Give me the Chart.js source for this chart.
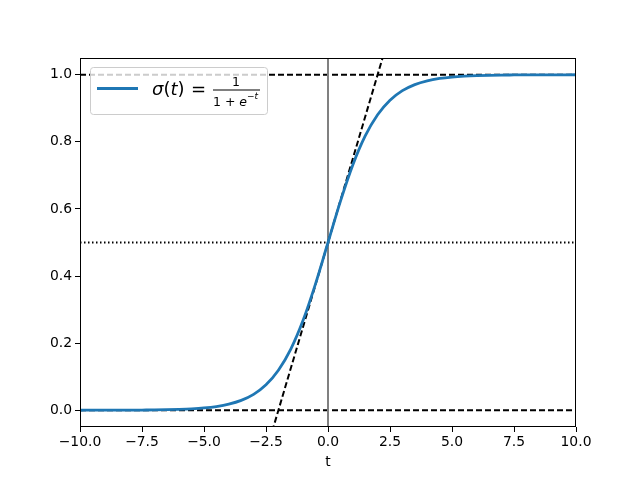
<!DOCTYPE html>
<html>
<head>
<meta charset="utf-8">
<script src="https://cdn.jsdelivr.net/npm/chart.js@4/dist/chart.umd.min.js"></script>
<style>
  html, body { margin: 0; padding: 0; background: #fff; }
  #box { width: 640px; height: 480px; }
</style>
</head>
<body>
<div id="box"><canvas id="sigChart" width="640" height="480"></canvas></div>
<script>
/* ---- data ---- */
const tValues = [-10, -9.5, -9, -8.5, -8, -7.5, -7, -6.5, -6, -5.5, -5, -4.5, -4, -3.5, -3, -2.5, -2, -1.5, -1, -0.5,
  0, 0.5, 1, 1.5, 2, 2.5, 3, 3.5, 4, 4.5, 5, 5.5, 6, 6.5, 7, 7.5, 8, 8.5, 9, 9.5, 10];
const sigValues = [0.0000, 0.0001, 0.0001, 0.0002, 0.0003, 0.0006, 0.0009, 0.0015, 0.0025, 0.0041, 0.0067, 0.0110,
  0.0180, 0.0293, 0.0474, 0.0759, 0.1192, 0.1824, 0.2689, 0.3775, 0.5000, 0.6225, 0.7311, 0.8176, 0.8808,
  0.9241, 0.9526, 0.9707, 0.9820, 0.9890, 0.9933, 0.9959, 0.9975, 0.9985, 0.9991, 0.9994, 0.9997, 0.9998,
  0.9999, 0.9999, 1.0000];
const xTicks = [-10, -7.5, -5, -2.5, 0, 2.5, 5, 7.5, 10];
const yTicks = [0, 0.2, 0.4, 0.6, 0.8, 1.0];
const zeroLine = [[-10, 0], [10, 0]];
const halfLine = [[-10, 0.5], [10, 0.5]];
const oneLine = [[-10, 1], [10, 1]];
const vertLine = [[0, -1.1], [0, 1.1]];
const tangentLine = [[-4, -0.5], [4, 1.5]];

const toPts = (arr) => arr.map(([x, y]) => ({ x, y }));
const fmt = (v) => v.toFixed(1).replace("-", "\u2212");

/* ---- frame around the plot area ---- */
const framePlugin = {
  id: "frame",
  afterDraw(chart) {
    const { ctx, chartArea: a } = chart;
    ctx.save();
    ctx.strokeStyle = "#000";
    ctx.lineWidth = 1;
    ctx.strokeRect(a.left + 0.5, a.top + 0.5, a.right - a.left - 1, a.bottom - a.top - 1);
    ctx.restore();
  },
};

/* ---- legend with the fraction label ---- */
const legendPlugin = {
  id: "mathLegend",
  afterDraw(chart) {
    const ctx = chart.ctx;
    ctx.save();
    // box
    ctx.fillStyle = "rgba(255,255,255,0.8)";
    ctx.strokeStyle = "#cccccc";
    ctx.lineWidth = 1;
    ctx.beginPath();
    ctx.roundRect(90.5, 67.5, 177, 47, 3);
    ctx.fill();
    ctx.stroke();
    // line sample
    ctx.strokeStyle = "#1f77b4";
    ctx.lineWidth = 2.8;
    ctx.beginPath();
    ctx.moveTo(97, 88.5);
    ctx.lineTo(138, 88.5);
    ctx.stroke();
    // sigma(t) =
    ctx.fillStyle = "#000";
    ctx.textBaseline = "alphabetic";
    let x = 152;
    const pieces = [["σ", true], ["(", false], ["t", true], [")", false]];
    pieces.forEach(([s, it]) => {
      ctx.font = (it ? "italic " : "") + '18px "DejaVu Sans"';
      ctx.fillText(s, x, 95);
      x += ctx.measureText(s).width;
    });
    ctx.font = '18px "DejaVu Sans"';
    ctx.fillText("=", 191, 95);
    // fraction
    ctx.font = '12.5px "DejaVu Sans"';
    ctx.textAlign = "center";
    ctx.fillText("1", 236, 86);
    ctx.textAlign = "left";
    ctx.fillRect(213, 89.5, 47, 1);
    ctx.fillText("1 + ", 213, 106);
    let dx = 213 + ctx.measureText("1 + ").width;
    ctx.font = 'italic 12.5px "DejaVu Sans"';
    ctx.fillText("e", dx, 106);
    dx += ctx.measureText("e").width;
    ctx.font = '9px "DejaVu Sans"';
    ctx.fillText("\u2212", dx, 99);
    dx += ctx.measureText("\u2212").width;
    ctx.font = 'italic 9px "DejaVu Sans"';
    ctx.fillText("t", dx, 99);
    ctx.restore();
  },
};

function refLine(data, color, dash, width) {
  return {
    data: toPts(data),
    borderColor: color,
    borderWidth: width || 2,
    borderDash: dash,
    pointRadius: 0,
    fill: false,
  };
}

new Chart(document.getElementById("sigChart"), {
  type: "line",
  data: {
    datasets: [
      {
        data: tValues.map((t, i) => ({ x: t, y: sigValues[i] })),
        borderColor: "#1f77b4",
        borderWidth: 2.8,
        pointRadius: 0,
        cubicInterpolationMode: "monotone",
        fill: false,
      },
      refLine(tangentLine, "#000", [6, 3]),
      refLine(vertLine, "#808080", [], 2),
      refLine(oneLine, "#000", [6, 3]),
      refLine(halfLine, "#000", [1.5, 2.5]),
      refLine(zeroLine, "#000", [6, 3]),
    ],
  },
  options: {
    responsive: false,
    animation: false,
    layout: { padding: { left: 0, top: 58, right: 64, bottom: 0 } },
    plugins: { legend: { display: false }, tooltip: { enabled: false } },
    scales: {
      x: {
        type: "linear",
        min: -10,
        max: 10,
        afterBuildTicks: (s) => { s.ticks = xTicks.map((v) => ({ value: v })); },
        afterFit: (s) => { s.height = 53; },
        ticks: {
          callback: (v) => fmt(v),
          color: "#000",
          font: { family: "DejaVu Sans", size: 13.9 },
          padding: 2,
          maxRotation: 0,
        },
        grid: { drawOnChartArea: false, tickLength: 5, tickColor: "#000" },
        border: { display: false },
        title: {
          display: true,
          text: "t",
          color: "#000",
          font: { family: "DejaVu Sans", size: 13.9 },
          padding: { top: 0, bottom: 9 },
        },
      },
      y: {
        type: "linear",
        min: -0.05,
        max: 1.05,
        afterBuildTicks: (s) => { s.ticks = yTicks.map((v) => ({ value: v })); },
        afterFit: (s) => { s.width = 80; },
        ticks: {
          callback: (v) => fmt(v),
          color: "#000",
          font: { family: "DejaVu Sans", size: 13.9 },
          padding: 3,
        },
        grid: { drawOnChartArea: false, tickLength: 5, tickColor: "#000" },
        border: { display: false },
      },
    },
  },
  plugins: [framePlugin, legendPlugin],
});
</script>
</body>
</html>
